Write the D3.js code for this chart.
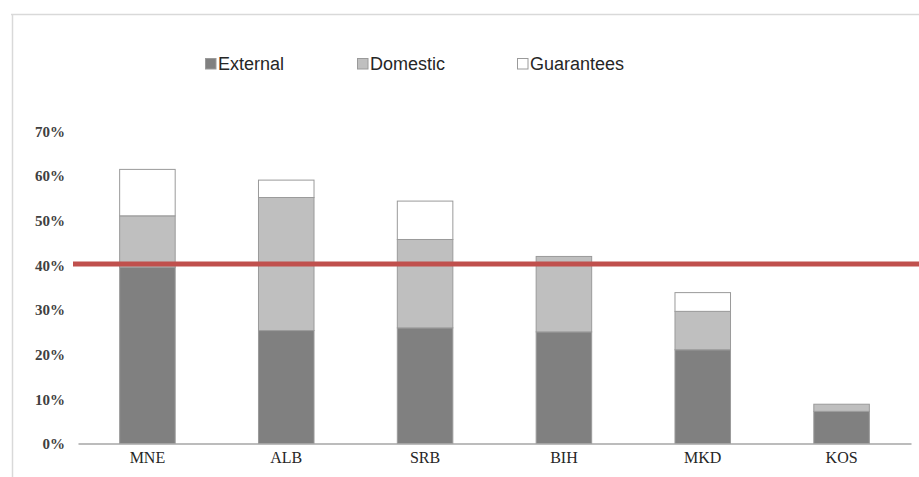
<!DOCTYPE html>
<html>
<head>
<meta charset="utf-8">
<script src="https://cdn.jsdelivr.net/npm/d3@7"></script>
<style>
  html, body { margin: 0; padding: 0; background: #fff; }
  svg { display: block; }
</style>
</head>
<body>
<svg id="chart" width="919" height="477"></svg>
<script>
const categories = ["MNE", "ALB", "SRB", "BIH", "MKD", "KOS"];
const external   = [39.5, 25.3, 25.9, 25.0, 21.0, 7.2];
const domestic   = [11.5, 29.8, 19.8, 16.9, 8.6, 1.6];
const guarantees = [10.4, 3.9, 8.6, 0.0, 4.2, 0.0];
const seriesNames = ["External", "Domestic", "Guarantees"];
const yTicks = [0, 10, 20, 30, 40, 50, 60, 70];
const threshold = 40;

const colors = { External: "#808080", Domestic: "#bfbfbf", Guarantees: "#ffffff" };

const svg = d3.select("#chart");
const W = 919, H = 477;

// frame lines
svg.append("line").attr("x1", 11).attr("x2", W).attr("y1", 14.5).attr("y2", 14.5)
  .attr("stroke", "#d9d9d9").attr("stroke-width", 1.5);
svg.append("line").attr("x1", 12.5).attr("x2", 12.5).attr("y1", 14).attr("y2", H)
  .attr("stroke", "#d9d9d9").attr("stroke-width", 1.5);

const x = d3.scaleBand().domain(categories).range([78, 911]).paddingInner(0.6).paddingOuter(0.3);
const y = d3.scaleLinear().domain([0, 70]).range([443.5, 131]);

const rows = categories.map((c, i) => ({ cat: c, External: external[i], Domestic: domestic[i], Guarantees: guarantees[i] }));
const stack = d3.stack().keys(seriesNames)(rows);

// y tick labels
const yAxis = d3.axisLeft(y).tickValues(yTicks).tickSize(0).tickPadding(0).tickFormat(d => d + "%");
const yg = svg.append("g").attr("transform", "translate(65,0)").call(yAxis);
yg.select(".domain").remove();
yg.selectAll("text").attr("font-family", "'Liberation Serif', 'Times New Roman', serif")
  .attr("font-size", 15).attr("fill", "#404040").attr("font-weight", "bold").attr("dy", "0.35em");

// bars
const layers = svg.append("g").selectAll("g").data(stack).join("g")
  .attr("fill", d => colors[d.key]);
layers.selectAll("rect").data(d => d.filter(s => s[1] - s[0] > 0)).join("rect")
  .attr("x", d => x(d.data.cat))
  .attr("width", x.bandwidth())
  .attr("y", d => y(d[1]))
  .attr("height", d => y(d[0]) - y(d[1]))
  .attr("stroke", "#9a9a9a").attr("stroke-width", 1);

// baseline / x axis
const xAxis = d3.axisBottom(x).tickSize(0).tickPadding(8);
const xg = svg.append("g").attr("transform", `translate(0,${y(0)})`).call(xAxis);
xg.select(".domain").attr("stroke", "#a6a6a6").attr("stroke-width", 1.5);
xg.selectAll("text").attr("font-family", "'Liberation Serif', 'Times New Roman', serif")
  .attr("font-size", 16).attr("fill", "#262626");

// threshold line
svg.append("line").attr("x1", 73).attr("x2", W)
  .attr("y1", y(threshold) - 1).attr("y2", y(threshold) - 1)
  .attr("stroke", "#c0504d").attr("stroke-width", 5);

// legend
const legendX = [205, 357, 517];
const lg = svg.append("g");
seriesNames.forEach((name, i) => {
  const g = lg.append("g").attr("transform", `translate(${legendX[i]},58)`);
  g.append("rect").attr("x", 0.5).attr("y", 0.5).attr("width", 10.5).attr("height", 10.5)
    .attr("fill", colors[name]).attr("stroke", "#9a9a9a").attr("stroke-width", 1);
  g.append("text").attr("x", 13).attr("y", 6).attr("dy", "0.36em")
    .attr("font-family", "'Liberation Sans', Arial, sans-serif").attr("font-size", 18)
    .attr("fill", "#262626").text(name);
});
</script>
</body>
</html>
